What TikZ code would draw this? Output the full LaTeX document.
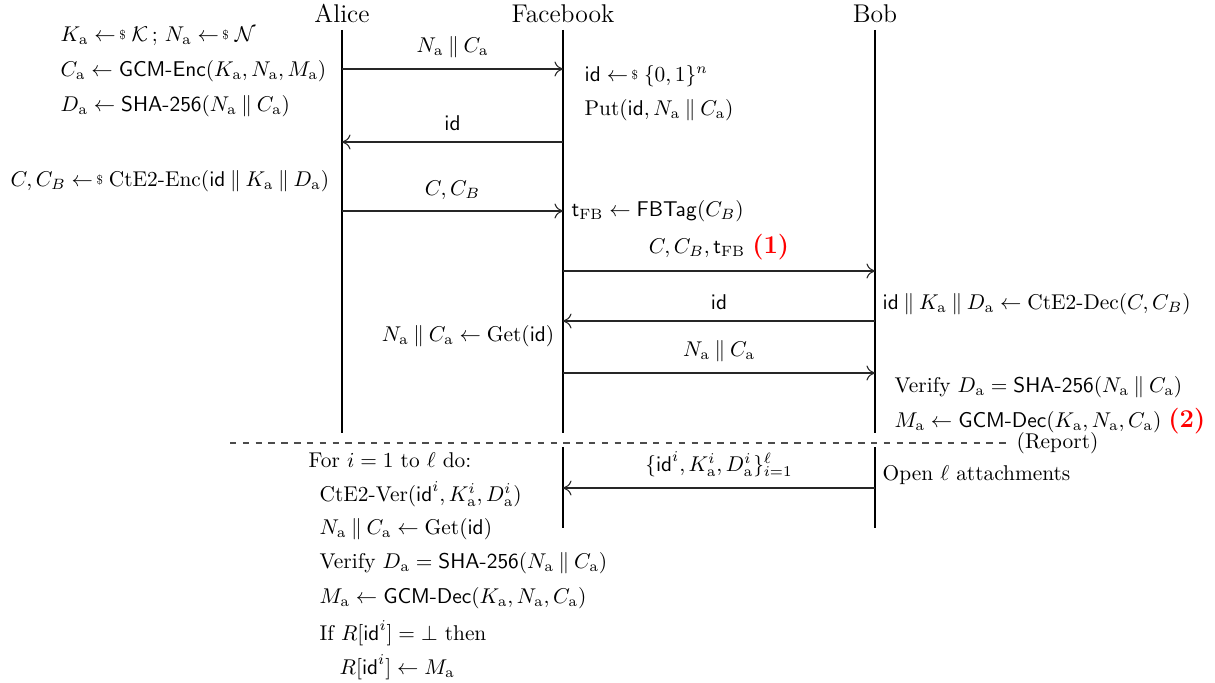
\documentclass[tikz,border=0pt]{standalone}
\usepackage{amsmath,amssymb}
\usepackage{graphicx}
\usepackage{xcolor}
\usetikzlibrary{arrows.meta}

\newcommand{\smpl}{\mathrel{\leftarrow\mkern-2mu\raisebox{0.15ex}{\scalebox{0.6}{\$}}}}
\newcommand{\cc}{\mathbin{\|}}
\newcommand{\ida}{\mathsf{id}}
\newcommand{\Na}{N_{\mathrm{a}}}
\newcommand{\Ca}{C_{\mathrm{a}}}
\newcommand{\Ka}{K_{\mathrm{a}}}
\newcommand{\Da}{D_{\mathrm{a}}}
\newcommand{\Ma}{M_{\mathrm{a}}}
\newcommand{\tfb}{\mathsf{t}_{\mathrm{FB}}}
\newcommand{\redtag}[1]{\textcolor{red}{\large\bfseries(#1)}}

\begin{document}
\begin{tikzpicture}[
    x={(0.468pt,0)}, y={(0,-0.468pt)},
    party/.style={font=\large, anchor=south},
    life/.style={draw=black, line width=0.8pt},
    msg/.style={draw=black!85, line width=0.5pt, -{To[length=4pt,width=7pt]}},
    lbl/.style={font=\normalsize, inner sep=2pt},
    act/.style={lbl, anchor=west},
  ]
  \useasboundingbox (0,0) rectangle (1215,683);

  % ---- the three parties and their lifelines
  \node[party] (alice) at (342,30) {Alice};
  \node[party] (fb) at (563,30) {Facebook};
  \node[party] (bob) at (875,30) {Bob};
  \coordinate (aliceEnd) at (342,433);
  \coordinate (fbEnd) at (563,433);
  \coordinate (bobEnd) at (875,433);
  \coordinate (fbLow) at (563,447);
  \coordinate (fbLowEnd) at (563,528);
  \coordinate (bobLow) at (875,447);
  \coordinate (bobLowEnd) at (875,528);
  \draw[life] (alice.south) -- (aliceEnd);
  \draw[life] (fb.south) -- (fbEnd);
  \draw[life] (bob.south) -- (bobEnd);
  \draw[life] (fbLow) -- (fbLowEnd);
  \draw[life] (bobLow) -- (bobLowEnd);

  % ---- message heights on each lifeline
  \foreach \m/\y in {1/69, 2/142, 3/211, 4/271, 5/321, 6/373, 7/488} {
    \coordinate (a\m) at (342,\y);
    \coordinate (f\m) at (563,\y);
    \coordinate (b\m) at (875,\y);
  }

  % ---- upload
  \draw[msg] (a1) -- (f1) node[lbl, midway, above=3pt] {$\Na \cc \Ca$};
  \draw[msg] (f2) -- (a2) node[lbl, midway, above=3pt] {$\ida$};
  \draw[msg] (a3) -- (f3) node[lbl, midway, above=3pt] {$C, C_B$};
  % ---- delivery
  \draw[msg] (f4) -- (b4) node[lbl, midway, above=3pt] {$C, C_B, \tfb$ \redtag{1}};
  \draw[msg] (b5) -- (f5) node[lbl, midway, above=3pt] {$\ida$};
  \draw[msg] (f6) -- (b6) node[lbl, midway, above=3pt] {$\Na \cc \Ca$};
  % ---- report
  \draw[msg] (b7) -- (f7) node[lbl, midway, above=3pt] {$\{\ida^i, \Ka^i, \Da^i\}_{i=1}^{\ell}$};

  % ---- Alice's side
  \node[act] (a1txt) at (56,36) {$\Ka \smpl \mathcal{K}\,;\, \Na \smpl \mathcal{N}$};
  \node[act] (a2txt) at (56,71) {$\Ca \leftarrow \mathsf{GCM\text{-}Enc}(\Ka, \Na, \Ma)$};
  \node[act] (a3txt) at (56,106) {$\Da \leftarrow \mathsf{SHA\text{-}256}(\Na \cc \Ca)$};
  \node[act] (a4txt) at (6,181) {$C, C_B \smpl \mathrm{CtE2\text{-}Enc}(\ida \cc \Ka \cc \Da)$};

  % ---- Facebook's side
  \node[act] (f1txt) at (580,76) {$\ida \smpl \{0,1\}^n$};
  \node[act] (f2txt) at (580,110) {$\mathrm{Put}(\ida, \Na \cc \Ca)$};
  \node[act] (f3txt) at (567,211) {$\tfb \leftarrow \mathsf{FBTag}(C_B)$};
  \node[lbl, anchor=east] (f4txt) at (559,336) {$\Na \cc \Ca \leftarrow \mathrm{Get}(\ida)$};

  % ---- Bob's side
  \node[act] (b1txt) at (878,304) {$\ida \cc \Ka \cc \Da \leftarrow \mathrm{CtE2\text{-}Dec}(C, C_B)$};
  \node[act] (b2txt) at (890,387) {Verify $\Da = \mathsf{SHA\text{-}256}(\Na \cc \Ca)$};
  \node[act] (b3txt) at (890,421) {$\Ma \leftarrow \mathsf{GCM\text{-}Dec}(\Ka, \Na, \Ca)$ \redtag{2}};
  \node[act] (b4txt) at (878,475) {Open $\ell$ attachments};

  % ---- the report phase
  \node[lbl, anchor=west] (report) at (1012,443) {(Report)};
  \coordinate (dashL) at (230,443);
  \draw[black!70, dashed, line width=0.5pt] (dashL) -- (report.west);

  % ---- what Facebook checks for every reported attachment
  \node[act] (r1) at (304,460) {For $i = 1$ to $\ell$ do:};
  \node[act] (r2) at (315,494) {$\mathrm{CtE2\text{-}Ver}(\ida^i, \Ka^i, \Da^i)$};
  \node[act] (r3) at (315,529) {$\Na \cc \Ca \leftarrow \mathrm{Get}(\ida)$};
  \node[act] (r4) at (315,563) {Verify $\Da = \mathsf{SHA\text{-}256}(\Na \cc \Ca)$};
  \node[act] (r5) at (315,598) {$\Ma \leftarrow \mathsf{GCM\text{-}Dec}(\Ka, \Na, \Ca)$};
  \node[act] (r6) at (315,633) {If $R[\ida^i] = \bot$ then};
  \node[act] (r7) at (335,667) {$R[\ida^i] \leftarrow \Ma$};

\end{tikzpicture}
\end{document}
